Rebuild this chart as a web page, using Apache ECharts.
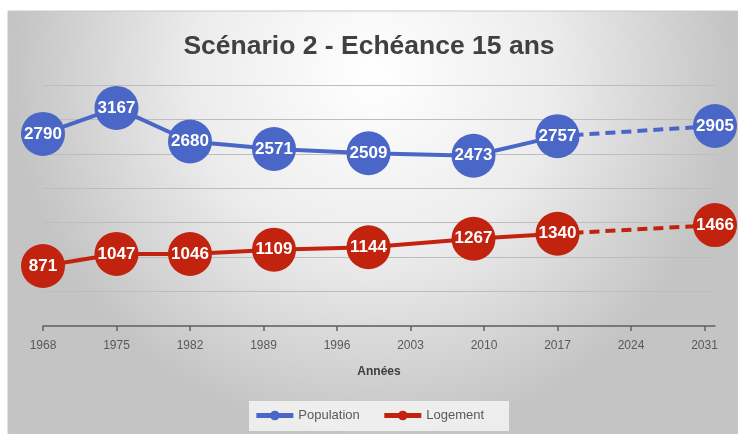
<!DOCTYPE html>
<html>
<head>
<meta charset="utf-8">
<script src="https://cdn.jsdelivr.net/npm/echarts@6/dist/echarts.min.js"></script>
<style>
  html, body { margin: 0; padding: 0; background: #fff; }
  #chart { width: 738px; height: 434px; }
</style>
</head>
<body>
<div id="chart"></div>
<script>
// recensements + projection a 15 ans
var years = [1968, 1975, 1982, 1990, 1999, 2009, 2017];
var projYear = 2032;
var population = [2790, 3167, 2680, 2571, 2509, 2473, 2757];
var populationProj = 2905;
var logement = [871, 1047, 1046, 1109, 1144, 1267, 1340];
var logementProj = 1466;
var tickYears = [1968, 1975, 1982, 1989, 1996, 2003, 2010, 2017, 2024, 2031];

var blue = '#4a67c8';
var red = '#c1230e';

function pairs(xs, ys) {
    return xs.map(function (x, i) { return [x, ys[i]]; });
}

function projData(lastYear, lastVal, val) {
    return [
        { value: [lastYear, lastVal], symbol: 'none', label: { show: false } },
        [projYear, val]
    ];
}

var label = {
    show: true,
    position: 'inside',
    color: '#fff',
    fontFamily: 'Liberation Sans',
    fontWeight: 'bold',
    fontSize: 17
};

var myChart = echarts.init(document.getElementById('chart'));
var options = {
    animation: false,
    graphic: [{
        type: 'rect',
        z: -10,
        shape: { x: 8, y: 11, width: 730, height: 423 },
        style: {
            fill: new echarts.graphic.RadialGradient(0.5, 0.15, 0.85, [
                { offset: 0, color: '#ffffff' },
                { offset: 0.5, color: '#ececec' },
                { offset: 1, color: '#c4c4c4' }
            ]),
            stroke: '#c8c8c8',
            lineWidth: 1
        }
    }, {
        type: 'rect',
        z: -5,
        shape: { x: 249, y: 401, width: 260, height: 30 },
        style: { fill: 'rgba(242,242,242,0.9)' }
    }],
    title: {
        text: 'Scénario 2 - Echéance 15 ans',
        left: 'center',
        top: 28,
        textStyle: {
            fontFamily: 'Liberation Sans',
            fontWeight: 'bold',
            fontSize: 26.5,
            color: '#404040'
        }
    },
    legend: {
        bottom: 7,
        left: 'center',
        data: ['Population', 'Logement'],
        itemWidth: 37,
        itemHeight: 12,
        itemGap: 22,
        lineStyle: { width: 5 },
        textStyle: { fontFamily: 'Liberation Sans', fontSize: 13, color: '#595959' }
    },
    grid: { left: 43, right: 23, top: 85, bottom: 108 },
    xAxis: {
        type: 'value',
        min: 1968,
        max: projYear,
        name: 'Années',
        nameLocation: 'middle',
        nameGap: 40,
        nameTextStyle: { fontFamily: 'Liberation Sans', fontWeight: 'bold', fontSize: 12, color: '#404040' },
        axisLine: { lineStyle: { color: '#606060', width: 1.5 } },
        axisTick: { customValues: tickYears, length: 5, lineStyle: { color: '#606060', width: 1.5 } },
        axisLabel: {
            customValues: tickYears,
            formatter: function (v) { return String(v); },
            margin: 14,
            fontFamily: 'Liberation Sans',
            fontSize: 12,
            color: '#595959'
        },
        splitLine: { show: false }
    },
    yAxis: {
        type: 'value',
        min: 0,
        max: 3500,
        interval: 500,
        axisLine: { show: false },
        axisTick: { show: false },
        axisLabel: { show: false },
        splitLine: { lineStyle: { color: '#bdbdbd', width: 1.2 } }
    },
    series: [
        {
            name: 'Population',
            type: 'line',
            z: 3,
            data: pairs(years, population),
            color: blue,
            symbol: 'circle',
            symbolSize: 44,
            lineStyle: { width: 4 },
            label: label
        },
        {
            name: 'Population proj',
            type: 'line',
            z: 2,
            data: projData(years[years.length - 1], population[population.length - 1], populationProj),
            color: blue,
            symbol: 'circle',
            symbolSize: 44,
            lineStyle: { width: 4, type: [10, 6] },
            label: label
        },
        {
            name: 'Logement',
            type: 'line',
            z: 3,
            data: pairs(years, logement),
            color: red,
            symbol: 'circle',
            symbolSize: 44,
            lineStyle: { width: 4 },
            label: label
        },
        {
            name: 'Logement proj',
            type: 'line',
            z: 2,
            data: projData(years[years.length - 1], logement[logement.length - 1], logementProj),
            color: red,
            symbol: 'circle',
            symbolSize: 44,
            lineStyle: { width: 4, type: [10, 6] },
            label: label
        }
    ]
};
myChart.setOption(options);
</script>
</body>
</html>
